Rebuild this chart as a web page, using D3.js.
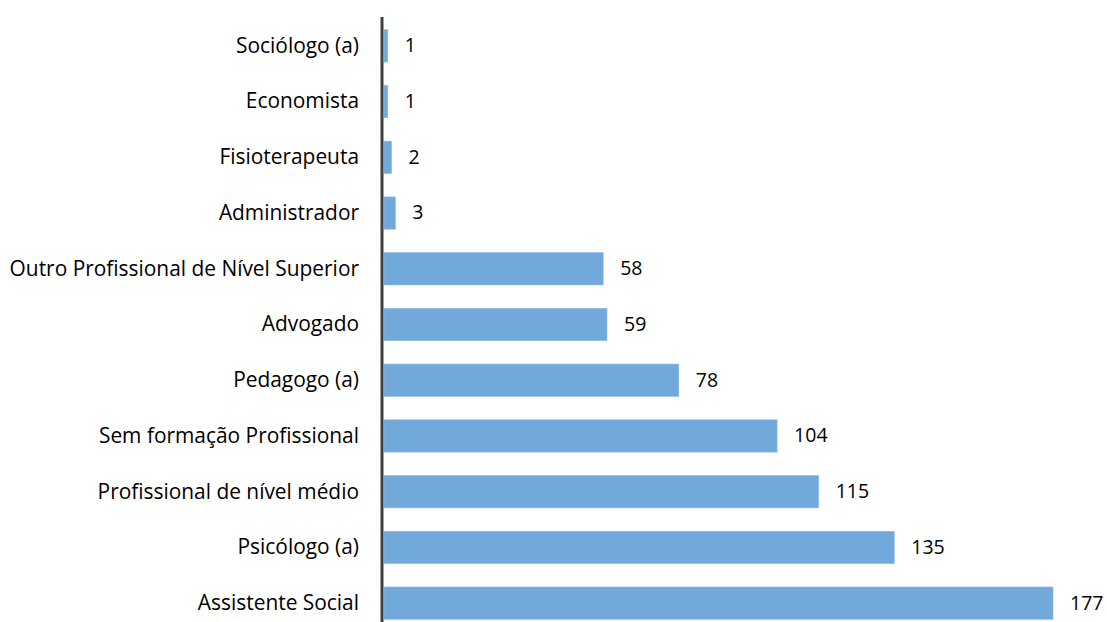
<!DOCTYPE html>
<html><head><meta charset="utf-8">
<script src="https://cdn.jsdelivr.net/npm/d3@7"></script>
<style>body{margin:0;background:#fff}svg text{font-family:"Open Sans",sans-serif;fill:#000}</style>
</head><body>
<svg id="c" width="1107" height="622"></svg>
<script>
const categories = ["Sociólogo (a)","Economista","Fisioterapeuta","Administrador","Outro Profissional de Nível Superior","Advogado","Pedagogo (a)","Sem formação Profissional","Profissional de nível médio","Psicólogo (a)","Assistente Social"];
const values = [1,1,2,3,58,59,78,104,115,135,177];

const svg = d3.select("#c");
const x0 = 384;
const x = d3.scaleLinear().domain([0,177]).range([x0,1053]);
const y = d3.scaleBand().domain(categories).range([18,631]).paddingInner(0.42).paddingOuter(0.21);

svg.selectAll("rect.bar").data(values).join("rect")
  .attr("class","bar")
  .attr("x",x0)
  .attr("y",(d,i)=>y(categories[i]))
  .attr("width",d=>x(d)-x0)
  .attr("height",y.bandwidth())
  .attr("fill","#72a9db")
  .attr("stroke","#8dbbe4").attr("stroke-width",0.6);

svg.selectAll("text.val").data(values).join("text")
  .attr("class","val")
  .attr("x",d=>x(d)+17)
  .attr("y",(d,i)=>y(categories[i])+y.bandwidth()/2)
  .attr("dy","0.33em")
  .style("font-size","19.5px")
  .text(d=>d);

const yAxis = d3.axisLeft(y).tickSize(0).tickPadding(23);
const g = svg.append("g").attr("transform",`translate(382,0)`).call(yAxis);
g.select(".domain").remove();
g.selectAll("text").style("font-size","20.9px").style("font-family","'Open Sans',sans-serif").attr("dy","0.33em");

svg.append("line").attr("x1",382).attr("x2",382).attr("y1",17).attr("y2",622)
  .attr("stroke","#404040").attr("stroke-width",3);
</script>
</body></html>
